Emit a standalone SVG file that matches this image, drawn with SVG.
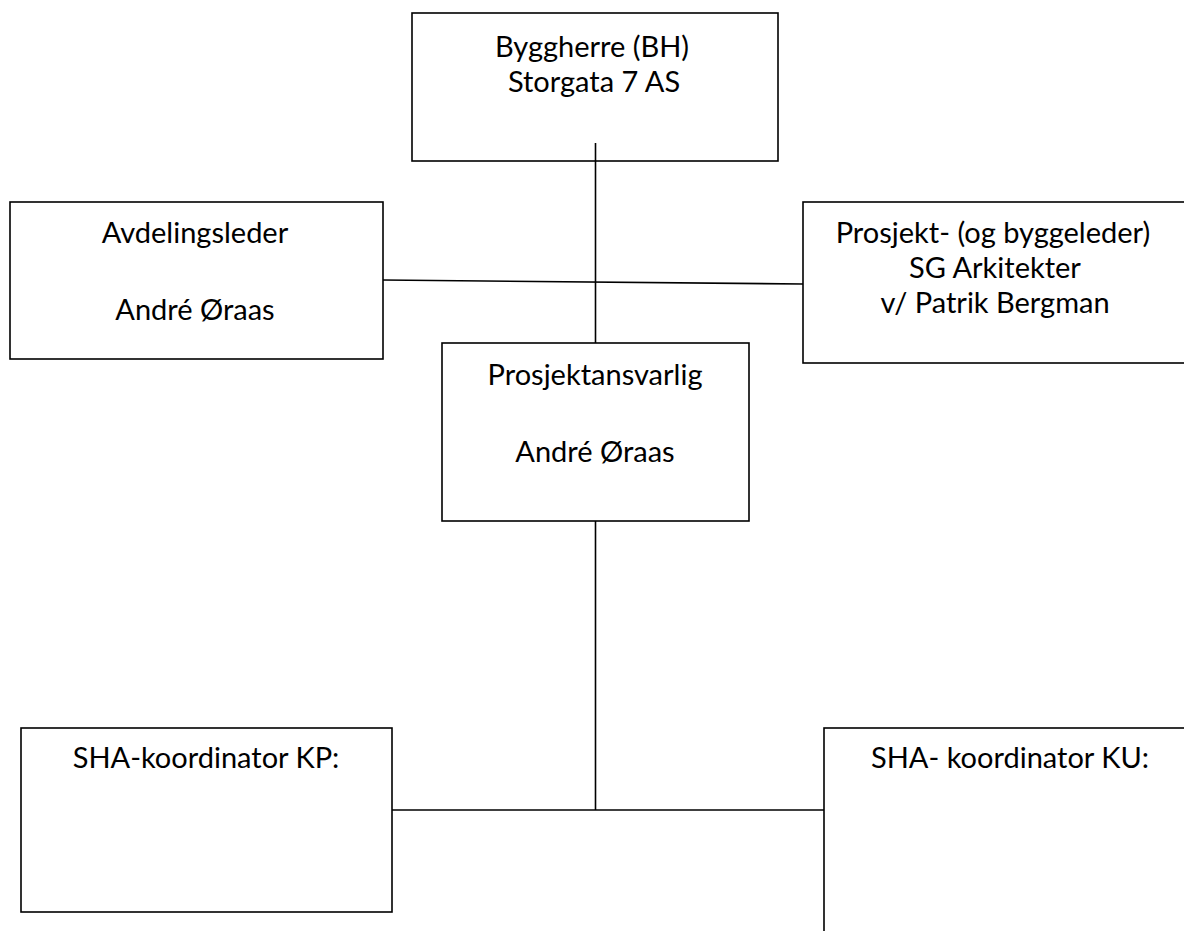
<svg xmlns="http://www.w3.org/2000/svg" width="1184" height="931" viewBox="0 0 1184 931">
<style>
.box{fill:#fff;stroke:#000;stroke-width:1.6}
.ln{fill:none;stroke:#000;stroke-width:1.6}
text{font-family:Lato,"Open Sans","Liberation Sans",sans-serif;font-size:29px;fill:#000;text-anchor:middle}
</style>
<rect width="1184" height="931" fill="#fff"/>
<g id="node-bh">
<rect class="box" x="412" y="13" width="366" height="148"/>
<text x="592" y="57">Byggherre (BH)</text>
<text x="594" y="92">Storgata 7 AS</text>
</g>
<g id="node-avd">
<rect class="box" x="10" y="202" width="373" height="157"/>
<text x="195" y="243">Avdelingsleder</text>
<text x="195" y="320">André Øraas</text>
</g>
<g id="node-pl">
<rect class="box" x="803" y="202" width="390" height="161"/>
<text x="993" y="243">Prosjekt- (og byggeleder)</text>
<text x="995" y="278">SG Arkitekter</text>
<text x="995" y="313">v/ Patrik Bergman</text>
</g>
<g id="node-pa">
<rect class="box" x="442" y="343" width="307" height="178"/>
<text x="595" y="385">Prosjektansvarlig</text>
<text x="595" y="462">André Øraas</text>
</g>
<g id="node-kp">
<rect class="box" x="21" y="728" width="371" height="184"/>
<text x="206" y="768">SHA-koordinator KP:</text>
</g>
<g id="node-ku">
<rect class="box" x="824" y="728" width="380" height="220"/>
<text x="1010" y="768">SHA- koordinator KU:</text>
</g>
<g id="connectors">
<line class="ln" x1="595.5" y1="143" x2="595.5" y2="343"/>
<line class="ln" x1="383" y1="280" x2="803" y2="284"/>
<line class="ln" x1="595.5" y1="521" x2="595.5" y2="810"/>
<line class="ln" x1="392" y1="810" x2="824" y2="810"/>
</g>
</svg>
